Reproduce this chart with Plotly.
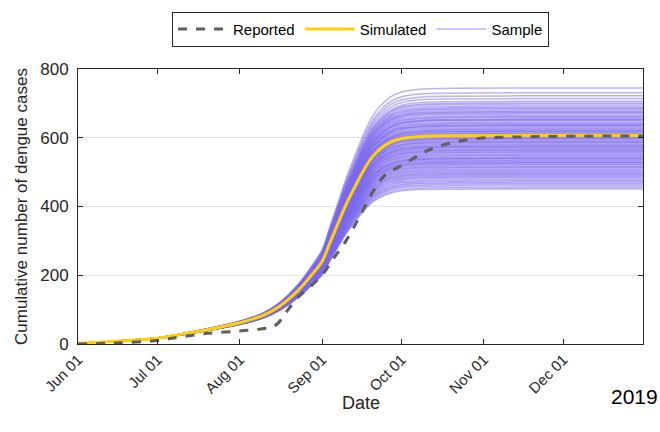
import plotly.graph_objects as go
import pandas as pd

# ---- Data ----
sim_dates = ["2019-06-01", "2019-06-15", "2019-07-01", "2019-07-09", "2019-07-15", "2019-08-01",
             "2019-08-10", "2019-08-16", "2019-08-23", "2019-08-28", "2019-09-01", "2019-09-04",
             "2019-09-07", "2019-09-10", "2019-09-14", "2019-09-17", "2019-09-20", "2019-09-23",
             "2019-09-27", "2019-10-01", "2019-10-08", "2019-10-20", "2019-11-15", "2019-12-31"]
sim_vals = [2, 8, 17, 27, 35, 62, 84, 110, 156, 200, 240, 295,
            350, 405, 466, 510, 545, 568, 588, 598, 604, 606, 607, 607]

rep_dates = ["2019-06-01", "2019-06-15", "2019-07-01", "2019-07-09", "2019-07-20", "2019-08-01",
             "2019-08-10", "2019-08-14", "2019-08-17", "2019-08-19", "2019-08-23", "2019-08-28",
             "2019-09-01", "2019-09-05", "2019-09-10", "2019-09-15", "2019-09-20", "2019-09-25",
             "2019-09-30", "2019-10-07", "2019-10-12", "2019-10-18", "2019-10-30", "2019-11-19",
             "2019-12-31"]
rep_vals = [0, 3, 10, 20, 31, 38, 45, 52, 75, 98, 136, 170,
            200, 245, 300, 368, 440, 494, 515, 547, 567, 582, 598, 603, 605]

# final plateau levels of the sample trajectories (estimated)
sample_levels = [745, 731, 722, 714, 706, 701, 698, 693, 689, 686, 683, 679, 676, 674, 671,
                 668, 664, 661, 659, 655, 652, 650, 646, 643, 641, 637, 635, 632, 629, 626,
                 624, 621, 618, 616, 613, 610, 608, 604, 601, 599, 596, 593, 590, 588, 584,
                 581, 579, 576, 573, 571, 568, 566, 562, 559, 557, 554, 551, 549, 546, 543,
                 541, 538, 535, 533, 530, 527, 524, 522, 519, 516, 514, 511, 508, 505, 502,
                 499, 496, 494, 491, 488, 485, 482, 478, 475, 471, 468, 464, 460, 455, 451,
                 612, 587, 563, 637, 528, 575, 653, 597, 540, 620]

tick_dates = ["2019-06-01", "2019-07-01", "2019-08-01", "2019-09-01",
              "2019-10-01", "2019-11-01", "2019-12-01"]
tick_labels = ["Jun 01", "Jul 01", "Aug 01", "Sep 01", "Oct 01", "Nov 01", "Dec 01"]

# ---- Figure ----
fig = go.Figure()
plateau = sim_vals[-1]
for i, lvl in enumerate(sample_levels):
    ratio = lvl / plateau
    ys = [v * (1 + (ratio - 1) * (v / plateau) ** 0.5) for v in sim_vals]
    fig.add_trace(go.Scatter(
        x=pd.to_datetime(sim_dates), y=ys, mode="lines",
        line=dict(color="rgb(123,104,238)", width=1.5, shape="spline"),
        opacity=0.5, name="Sample", showlegend=(i == 0), legendrank=3,
        hoverinfo="skip"))

fig.add_trace(go.Scatter(
    x=pd.to_datetime(sim_dates), y=sim_vals, mode="lines",
    line=dict(color="#FFD200", width=3, shape="spline"),
    name="Simulated", legendrank=2, hoverinfo="skip"))

fig.add_trace(go.Scatter(
    x=pd.to_datetime(rep_dates), y=rep_vals, mode="lines",
    line=dict(color="rgb(95,95,95)", width=3, dash="dash", shape="spline"),
    name="Reported", legendrank=1, hoverinfo="skip"))

axis_color = "#262626"
fig.update_layout(
    width=660, height=432,
    margin=dict(l=78, r=17, t=67, b=88),
    paper_bgcolor="white", plot_bgcolor="white",
    font=dict(family="Liberation Sans, Arial, sans-serif", color=axis_color),
    showlegend=True,
    legend=dict(orientation="h", x=0.5, xanchor="center", y=1.145, yanchor="middle",
                bordercolor=axis_color, borderwidth=1, bgcolor="white",
                font=dict(size=15, color="black"), itemwidth=50,
                traceorder="normal"),
    xaxis=dict(
        range=["2019-06-01", "2019-12-31"],
        tickmode="array", tickvals=pd.to_datetime(tick_dates), ticktext=tick_labels,
        tickangle=-45, ticks="inside", ticklen=5, tickcolor=axis_color,
        ticklabelstandoff=0,
        showline=True, linecolor=axis_color, linewidth=1, mirror="allticks",
        showgrid=False, zeroline=False, tickfont=dict(size=15, color=axis_color)),
    yaxis=dict(
        range=[0, 800], tickmode="array", tickvals=[0, 200, 400, 600, 800],
        ticks="inside", ticklen=5, tickcolor=axis_color,
        ticklabelstandoff=5,
        showline=True, linecolor=axis_color, linewidth=1, mirror="allticks",
        showgrid=True, gridcolor="#e4e4e4", zeroline=False,
        tickfont=dict(size=17, color=axis_color)),
    annotations=[
        dict(text="Date", xref="paper", yref="paper", x=0.5, y=-0.215,
             xanchor="center", yanchor="middle", showarrow=False,
             font=dict(size=18, color=axis_color)),
        dict(text="Cumulative number of dengue cases", xref="paper", yref="paper",
             x=-0.1, y=0.5, xanchor="center", yanchor="middle", textangle=-90,
             showarrow=False, font=dict(size=17, color=axis_color)),
        dict(text="2019", xref="paper", yref="paper", x=1.03, y=-0.19,
             xanchor="right", yanchor="middle", showarrow=False,
             font=dict(size=21, color="black")),
    ],
)

fig.write_html("out.html")
